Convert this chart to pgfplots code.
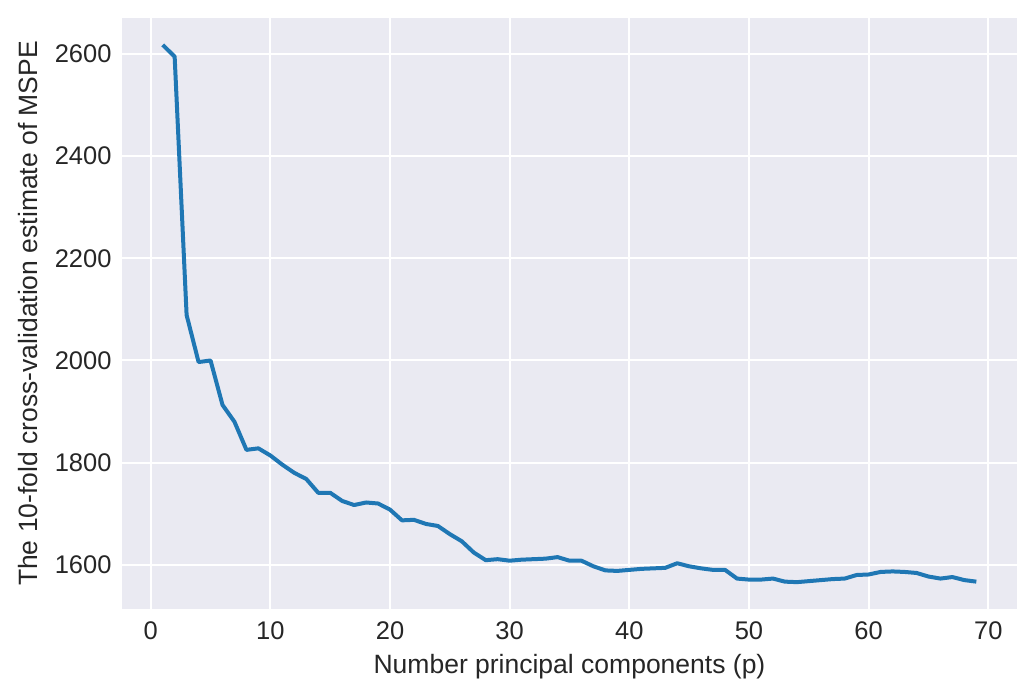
\documentclass[border=0pt]{standalone}
\usepackage{pgfplots}
\pgfplotsset{compat=1.18}
\usepackage{fontspec}
\setmainfont{Liberation Sans}
\definecolor{bgc}{HTML}{EAEAF2}
\definecolor{txt}{HTML}{262626}
\definecolor{lineblue}{HTML}{1F77B4}
\begin{document}
\begin{tikzpicture}
\begin{axis}[
  scale only axis,
  width=358pt, height=236.4pt,
  xmin=-2.4, xmax=72.4, ymin=1513.4, ymax=2670.6,
  xtick={0,10,20,30,40,50,60,70},
  ytick={1600,1800,2000,2200,2400,2600},
  axis background/.style={fill=bgc},
  axis line style={draw=none},
  major tick length=0pt,
  grid=major,
  major grid style={white, line width=0.8pt},
  /pgf/number format/assume math mode=true,
  /pgf/number format/1000 sep={},
  tick label style={font=\fontsize{10.2}{12}\selectfont, text=txt, inner sep=0pt},
  yticklabel style={anchor=east, xshift=-4pt},
  xticklabel style={anchor=north, yshift=-4.7pt},
  label style={font=\fontsize{10.6}{13}\selectfont, text=txt},
  xlabel={Number principal components (p)},
  ylabel={The 10-fold cross-validation estimate of MSPE},
  xlabel style={at={(axis description cs:0.5,-0.1088)}, anchor=base, inner sep=0pt},
  ylabel style={at={(axis description cs:-0.0947,0.5)}, anchor=base, inner sep=0pt},
]
\addplot[lineblue, line width=1.6pt, line join=round] coordinates {
(1,2618) (2,2595) (3,2089) (4,1997) (5,2000) (6,1913) (7,1880) (8,1825) (9,1828) (10,1814)
(11,1796) (12,1780) (13,1768) (14,1741) (15,1741) (16,1725) (17,1717) (18,1722) (19,1720) (20,1708)
(21,1687) (22,1688) (23,1680) (24,1676) (25,1660) (26,1646) (27,1624) (28,1609) (29,1611) (30,1608)
(31,1610) (32,1611) (33,1612) (34,1615) (35,1608) (36,1608) (37,1597) (38,1589) (39,1588) (40,1590)
(41,1592) (42,1593) (43,1594) (44,1603) (45,1597) (46,1593) (47,1590) (48,1590) (49,1573) (50,1571)
(51,1571) (52,1573) (53,1567) (54,1566) (55,1568) (56,1570) (57,1572) (58,1573) (59,1580) (60,1581)
(61,1586) (62,1587) (63,1586) (64,1584) (65,1577) (66,1573) (67,1576) (68,1570) (69,1567)
};
\end{axis}
\pgfresetboundingbox
\path[use as bounding box] (-48.8pt,-35.2pt) rectangle (364.8pt,243.6pt);
\end{tikzpicture}
\end{document}
